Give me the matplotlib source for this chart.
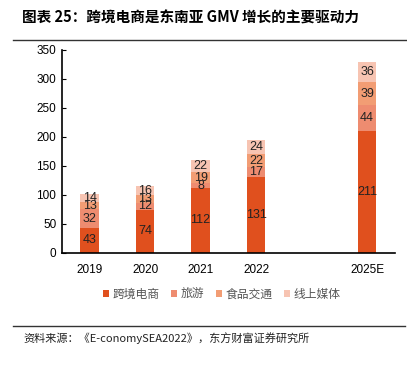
import matplotlib.pyplot as plt
from matplotlib.lines import Line2D
import numpy as np

plt.rcParams["font.family"] = ["Liberation Sans", "Noto Sans CJK SC", "DejaVu Sans"]

years = ["2019", "2020", "2021", "2022", "2025E"]
positions = [0, 1, 2, 3, 5]
series_names = ["跨境电商", "旅游", "食品交通", "线上媒体"]
ecommerce = [43, 74, 112, 131, 211]
travel = [32, 12, 8, 17, 44]
food = [13, 13, 19, 22, 39]
media = [14, 16, 22, 24, 36]
colors = ["#E0501E", "#EE8C70", "#F29D74", "#F7C4B2"]

fig = plt.figure(figsize=(4.07, 3.67), dpi=100)
ax = fig.add_axes([0.152, 0.311, 0.818, 0.553])

bottom = np.zeros(len(years))
for name, vals, c in zip(series_names, [ecommerce, travel, food, media], colors):
    bars = ax.bar(positions, vals, width=0.33, bottom=bottom, color=c, label=name)
    for b, v, y0 in zip(bars, vals, bottom):
        ax.text(b.get_x() + b.get_width() / 2, y0 + v / 2, str(v),
                ha="center", va="center", fontsize=9, color="#222222")
    bottom += np.array(vals)

ax.set_xlim(-0.5, 5.5)
ax.set_ylim(0, 350)
ax.set_yticks(range(0, 351, 50))
ax.set_xticks(positions)
ax.set_xticklabels(years)
ax.tick_params(axis="y", direction="in", length=3, labelsize=8.5, pad=4)
ax.tick_params(axis="x", length=0, labelsize=8.5, pad=8)
for s in ["top", "right"]:
    ax.spines[s].set_visible(False)
ax.spines["left"].set_linewidth(1.2)
ax.spines["bottom"].set_linewidth(1.2)

leg = ax.legend(loc="upper center", bbox_to_anchor=(0.48, -0.12), ncol=4, frameon=False,
                handlelength=0.5, handleheight=0.5, handletextpad=0.3, columnspacing=1.0,
                prop={"family": ["Noto Sans CJK SC"], "size": 8.5})
for t in leg.get_texts():
    t.set_color("#555555")

fig.text(0.054, 0.953, "图表 25：跨境电商是东南亚 GMV 增长的主要驱动力", fontsize=10.5,
         fontweight="bold", family=["Noto Sans CJK SC", "DejaVu Sans"], va="center")
fig.add_artist(Line2D([0.033, 1.0], [0.891, 0.891], color="#333333", lw=1.0))
fig.add_artist(Line2D([0.033, 0.995], [0.112, 0.112], color="#333333", lw=1.0))
fig.text(0.057, 0.079, "资料来源：《E-conomySEA2022》，东方财富证券研究所", fontsize=8,
         family=["Noto Sans CJK SC", "DejaVu Sans"], va="center", color="#222222")

fig.savefig("out.png", dpi=100)
